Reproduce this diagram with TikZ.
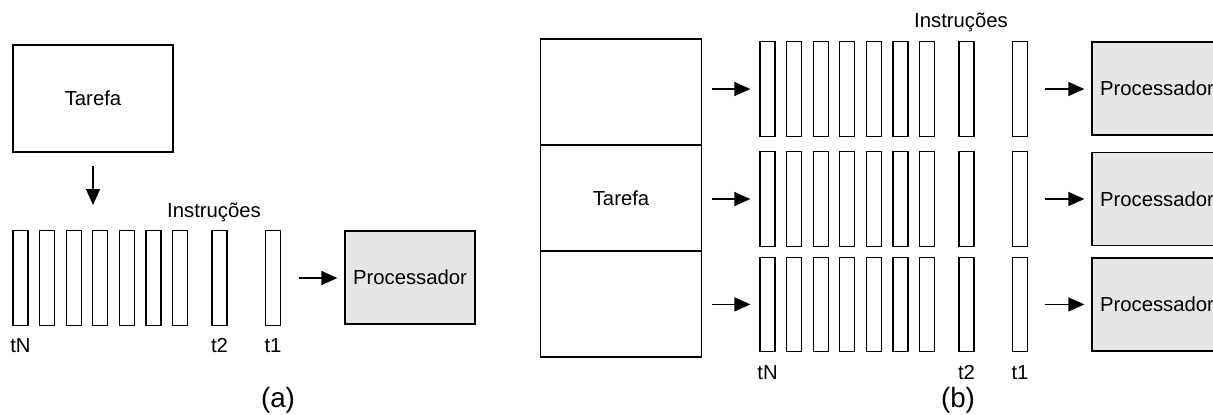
\documentclass[tikz,border=0pt]{standalone}
\usepackage{fontspec}
\setmainfont{Liberation Sans}
\usetikzlibrary{arrows.meta}
\definecolor{cinzaproc}{RGB}{230,230,230}
\tikzset{
    barra/.style={draw,line width=0.65pt,minimum width=7.5pt,minimum height=47.25pt,inner sep=0},
    caixa/.style={draw,line width=0.65pt,inner sep=0},
    proc/.style={caixa,fill=cinzaproc,minimum width=65pt,minimum height=46.5pt},
    seta/.style={line width=0.65pt,-{Triangle[length=8pt,width=7pt]}},
    legenda/.style={font=\fontsize{13.9}{16}\selectfont},
}
\newcommand{\fila}[3] {
    \foreach \i in {1,...,7}
        \node[barra] (#3-\i) at ({#1+26.6*(\i-1)},#2) {};
    \node[barra] (#3-t2) at ({#1+199},#2) {};
    \node[barra] (#3-t1) at ({#1+252.5},#2) {};
}
\begin{document}
\begin{tikzpicture}[x=0.5pt,y=-0.5pt,font=\fontsize{10.15}{12}\selectfont]
    \clip (0,0) rectangle (1213,414);
    % (a)
    \node[caixa,minimum width=80pt,minimum height=53.5pt] (tarefaA) at (93,98.5) {Tarefa};
    \coordinate (descida) at (93,205);
    \draw[seta,shorten <=6.5pt] (tarefaA.south) -- (descida);
    \node (instrA) at (214,212) {Instruções};
    \fila{20.5}{278}{a}
    \node (a-tN) at ([yshift=-10pt]a-1.south) {tN};
    \node (a-t2l) at ([yshift=-10pt]a-t2.south) {t2};
    \node (a-t1l) at ([yshift=-10pt]a-t1.south) {t1};
    \node[proc] (procA) at (410,277.5) {Processador};
    \draw[seta,shorten <=9pt,shorten >=3.5pt] (a-t1.east) -- (a-t1.east -| procA.west);
    \node[legenda] (legA) at (278,400) {(a)};
    % (b)
    \node[caixa,minimum width=80.25pt,minimum height=53pt] (celula1) at (621,92) {};
    \node[caixa,minimum width=80.25pt,minimum height=53pt] (celula2) at (621,198) {Tarefa};
    \node[caixa,minimum width=80.25pt,minimum height=53pt] (celula3) at (621,304) {};
    \node (instrB) at (961,22) {Instruções};
    \fila{767.5}{89}{b1}
    \fila{767.5}{199}{b2}
    \fila{767.5}{304.4}{b3}
    \node (b-tN) at ([yshift=-10.3pt]b3-1.south) {tN};
    \node (b-t2l) at ([yshift=-10.3pt]b3-t2.south) {t2};
    \node (b-t1l) at ([yshift=-10.3pt]b3-t1.south) {t1};
    \node[proc] (procB1) at (1157,88.5) {Processador};
    \node[proc] (procB2) at (1157,199) {Processador};
    \node[proc] (procB3) at (1157,304.4) {Processador};
    \foreach \l in {1,2,3} {
        \draw[seta,shorten <=5pt,shorten >=4.5pt] (celula1.east |- b\l-1.west) -- (b\l-1.west);
        \draw[seta,shorten <=8.5pt,shorten >=3.5pt] (b\l-t1.east) -- (b\l-t1.east -| procB\l.west);
    }
    \node[legenda] (legB) at (958,400) {(b)};
\end{tikzpicture}
\end{document}
